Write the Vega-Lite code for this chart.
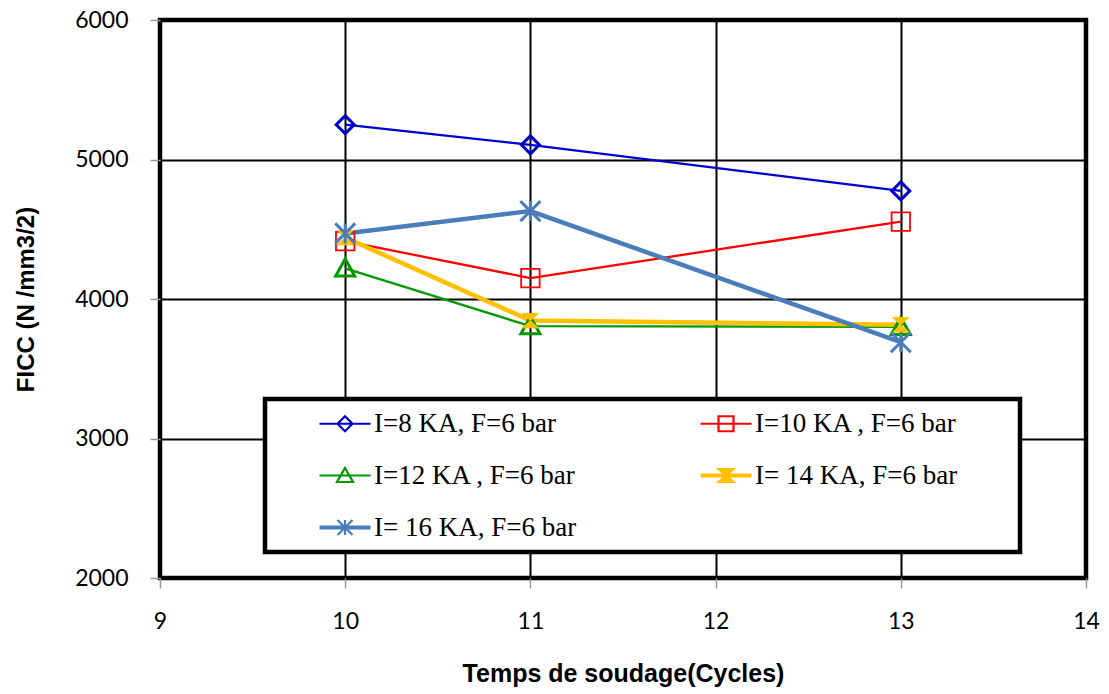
{
  "$schema": "https://vega.github.io/schema/vega-lite/v6.json",
  "width": 926,
  "height": 558,
  "autosize": {"type": "none"},
  "padding": {"left": 160, "top": 20, "right": 23, "bottom": 116},
  "background": "white",
  "config": {
    "view": {"stroke": "black", "strokeWidth": 4.5},
    "axis": {
      "labelFont": "Lato", "labelFontSize": 23, "labelColor": "black",
      "titleFont": "Liberation Sans", "titleFontWeight": "bold", "titleColor": "black",
      "gridColor": "black", "gridWidth": 2, "gridOpacity": 1,
      "tickColor": "#999999", "tickSize": 10, "tickWidth": 1.5, "domain": false
    },
    "legend": {
      "orient": "none", "legendX": 105, "legendY": 379, "columns": 2, "direction": "horizontal",
      "strokeColor": "black", "strokeWidth": 4.5, "fillColor": "white", "padding": 11,
      "labelFont": "Liberation Serif", "labelFontSize": 27, "labelColor": "black", "labelLimit": 0,
      "symbolSize": 400, "symbolStrokeWidth": 2.2, "labelOffset": 71, "rowPadding": 24, "columnPadding": 80, "symbolOpacity": 1,
      "titleOrient": "right", "titleFont": "Liberation Serif", "titleFontSize": 27, "titlePadding": 52
    }
  },
  "data": {"values": [
    {"serie": "I=8 KA, F=6 bar", "temps": 10, "ficc": 5250},
    {"serie": "I=8 KA, F=6 bar", "temps": 11, "ficc": 5105},
    {"serie": "I=8 KA, F=6 bar", "temps": 13, "ficc": 4775},
    {"serie": "I=10 KA , F=6 bar", "temps": 10, "ficc": 4415},
    {"serie": "I=10 KA , F=6 bar", "temps": 11, "ficc": 4150},
    {"serie": "I=10 KA , F=6 bar", "temps": 13, "ficc": 4555},
    {"serie": "I=12 KA , F=6 bar", "temps": 10, "ficc": 4220},
    {"serie": "I=12 KA , F=6 bar", "temps": 11, "ficc": 3805},
    {"serie": "I=12 KA , F=6 bar", "temps": 13, "ficc": 3800},
    {"serie": "I= 14 KA, F=6 bar", "temps": 10, "ficc": 4440},
    {"serie": "I= 14 KA, F=6 bar", "temps": 11, "ficc": 3845},
    {"serie": "I= 14 KA, F=6 bar", "temps": 13, "ficc": 3815},
    {"serie": "I= 16 KA, F=6 bar", "temps": 10, "ficc": 4470},
    {"serie": "I= 16 KA, F=6 bar", "temps": 11, "ficc": 4630},
    {"serie": "I= 16 KA, F=6 bar", "temps": 13, "ficc": 3690}
  ]},
  "encoding": {
    "x": {"field": "temps", "type": "quantitative",
      "scale": {"domain": [9, 14], "nice": false},
      "axis": {"values": [9, 10, 11, 12, 13, 14], "title": "Temps de soudage(Cycles)", "titleFontSize": 25, "labelPadding": 22, "titlePadding": 28, "labelFlush": false}},
    "y": {"field": "ficc", "type": "quantitative",
      "scale": {"domain": [2000, 6000], "nice": false, "zero": false},
      "axis": {"values": [2000, 3000, 4000, 5000, 6000], "format": "d", "title": "FICC (N /mm3/2)", "titleFontSize": 24, "labelPadding": 22, "titlePadding": 36}}
  },
  "layer": [
    {
      "mark": {"type": "point", "filled": false, "opacity": 0, "size": 400},
      "encoding": {
        "stroke": {"field": "serie", "type": "nominal", "title": "\u00a0",
          "scale": {"domain": ["I=8 KA, F=6 bar", "I=10 KA , F=6 bar", "I=12 KA , F=6 bar", "I= 14 KA, F=6 bar", "I= 16 KA, F=6 bar"],
            "range": ["#0000CC", "#FF0000", "#009900", "#FFC000", "#4A7EBB"]},
          "legend": {"title": "\u00a0", "symbolOpacity": 1}},
        "fill": {"field": "serie", "type": "nominal", "title": "\u00a0",
          "scale": {"domain": ["I=8 KA, F=6 bar", "I=10 KA , F=6 bar", "I=12 KA , F=6 bar", "I= 14 KA, F=6 bar", "I= 16 KA, F=6 bar"],
            "range": ["transparent", "transparent", "transparent", "#FFC000", "transparent"]},
          "legend": {"title": "\u00a0", "symbolOpacity": 1}},
        "shape": {"field": "serie", "type": "nominal", "title": "\u00a0",
          "scale": {"domain": ["I=8 KA, F=6 bar", "I=10 KA , F=6 bar", "I=12 KA , F=6 bar", "I= 14 KA, F=6 bar", "I= 16 KA, F=6 bar"],
            "range": [
              "M3,0H8.1M5.55,-0.75L6.3,0L5.55,0.75L4.8,0Z",
              "M3,0H8.1M4.8,-0.75H6.3V0.75H4.8Z",
              "M3,0H8.1M5.55,-0.75L6.35,0.65H4.75Z",
              "M3,-0.1H8.1M3,0.1H8.1M4.8,-0.65H6.3L4.8,0.65H6.3Z",
              "M3,-0.1H8.1M3,0.1H8.1M4.8,-0.75L6.3,0.75M4.8,0.75L6.3,-0.75M5.55,-0.75V0.75"
            ]},
          "legend": {"title": "\u00a0", "symbolOpacity": 1}}
      }
    },
    {
      "mark": {"type": "line"},
      "encoding": {
        "color": {"field": "serie", "type": "nominal", "legend": null,
          "scale": {"domain": ["I=8 KA, F=6 bar", "I=10 KA , F=6 bar", "I=12 KA , F=6 bar", "I= 14 KA, F=6 bar", "I= 16 KA, F=6 bar"],
            "range": ["#0000CC", "#FF0000", "#009900", "#FFC000", "#4A7EBB"]}},
        "strokeWidth": {"condition": {"test": "datum.serie === 'I= 14 KA, F=6 bar' || datum.serie === 'I= 16 KA, F=6 bar'", "value": 4.5}, "value": 2.3}
      }
    },
    {
      "transform": [{"filter": "datum.serie === 'I=8 KA, F=6 bar'"}],
      "mark": {"type": "point", "shape": "M0,-1L1,0L0,1L-1,0Z", "filled": false, "stroke": "#0000CC", "strokeWidth": 3, "size": 324, "opacity": 1}
    },
    {
      "transform": [{"filter": "datum.serie === 'I=10 KA , F=6 bar'"}],
      "mark": {"type": "point", "shape": "M-1,-1H1V1H-1Z", "filled": false, "stroke": "#FF0000", "strokeWidth": 1.8, "size": 340, "opacity": 1}
    },
    {
      "transform": [{"filter": "datum.serie === 'I=12 KA , F=6 bar'"}],
      "mark": {"type": "point", "shape": "M0,-1L1,0.8H-1Z", "filled": false, "stroke": "#009900", "strokeWidth": 3, "size": 361, "opacity": 1}
    },
    {
      "transform": [{"filter": "datum.serie === 'I= 14 KA, F=6 bar'"}],
      "mark": {"type": "point", "shape": "M-1,-0.9L1,-0.9L-1,0.9L1,0.9Z", "filled": true, "fill": "#FFC000", "stroke": "#FFC000", "strokeWidth": 1, "size": 256, "opacity": 1}
    },
    {
      "transform": [{"filter": "datum.serie === 'I= 16 KA, F=6 bar'"}],
      "mark": {"type": "point", "shape": "M-1,-1L1,1M-1,1L1,-1M0,-1L0,1", "filled": false, "stroke": "#4A7EBB", "strokeWidth": 3, "size": 400, "opacity": 1}
    }
  ]
}
